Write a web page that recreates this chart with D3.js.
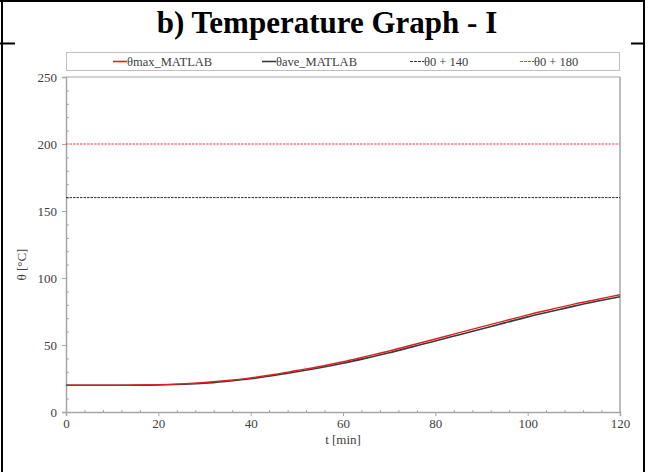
<!DOCTYPE html>
<html><head><meta charset="utf-8">
<script src="https://cdnjs.cloudflare.com/ajax/libs/d3/7.8.5/d3.min.js"></script>
<style>body{margin:0;background:#fff}svg{display:block}</style>
</head><body>
<script>
const title = "b) Temperature Graph - I";
const timeMin = [0,5,10,15,20,25,30,35,40,45,50,55,60,65,70,75,80,85,90,95,100,105,110,115,120];
const thetaMax = [20,20,20,20.1,20.4,21,22,23.5,25.5,28,31,34,37.5,41.5,45.5,50,54.5,59,63.5,68,72.5,76.5,80.5,84,87.5];
const thetaAve = [20,20,20,20,20.2,20.7,21.5,23,24.8,27.2,30,33,36.4,40.2,44.2,48.6,53,57.5,62,66.5,71,75,79,82.6,86];
const limit140 = 160;
const limit180 = 200;
const legendLabels = ["θmax_MATLAB","θave_MATLAB","θ0 + 140","θ0 + 180"];
const xTicks = [0,20,40,60,80,100,120];
const yTicks = [0,50,100,150,200,250];
const xLabel = "t [min]";
const yLabel = "θ [°C]";

const W = 653, H = 472;
const svg = d3.select("body").append("svg").attr("width", W).attr("height", H);
const font = "'Liberation Serif', 'Times New Roman', serif";

// outer table frame
const frame = svg.append("g").attr("stroke", "#000").attr("stroke-width", 2);
frame.append("line").attr("x1", 0).attr("x2", 645).attr("y1", 1).attr("y2", 1);
frame.append("line").attr("x1", 2).attr("x2", 2).attr("y1", 0).attr("y2", H);
frame.append("line").attr("x1", 644).attr("x2", 644).attr("y1", 0).attr("y2", H);
frame.append("line").attr("x1", 0).attr("x2", 15).attr("y1", 43.5).attr("y2", 43.5);
frame.append("line").attr("x1", 631).attr("x2", 645).attr("y1", 43.5).attr("y2", 43.5);

svg.append("text").attr("x", 327).attr("y", 33).attr("text-anchor", "middle")
  .style("font-family", font).attr("font-weight", "bold").attr("font-size", 31)
  .attr("fill", "#000").text(title);

const x = d3.scaleLinear().domain([0, 120]).range([66, 620]);
const y = d3.scaleLinear().domain([0, 250]).range([412, 77]);
const axisColor = "#a6a6a6";

// plot frame (top & right)
svg.append("line").attr("x1", x(0)).attr("x2", x(120)).attr("y1", y(250)).attr("y2", y(250)).attr("stroke", axisColor);
svg.append("line").attr("x1", x(120)).attr("x2", x(120)).attr("y1", y(250)).attr("y2", y(0)).attr("stroke", axisColor).attr("stroke-width", 1.5);

// x axis
const xa = svg.append("g").attr("transform", `translate(0,${y(0)})`)
  .call(d3.axisBottom(x).tickValues(xTicks).tickSize(4).tickPadding(3).tickFormat(d3.format("d")));
const xm = svg.append("g").attr("transform", `translate(0,${y(0)})`)
  .call(d3.axisTop(x).tickValues(d3.range(0, 121, 4).filter(v => v % 20 !== 0)).tickSize(2).tickFormat(""));
// y axis
const ya = svg.append("g").attr("transform", `translate(${x(0)},0)`)
  .call(d3.axisLeft(y).tickValues(yTicks).tickSize(4).tickPadding(5).tickFormat(d3.format("d")));
const ym = svg.append("g").attr("transform", `translate(${x(0)},0)`)
  .call(d3.axisRight(y).tickValues(d3.range(0, 251, 10).filter(v => v % 50 !== 0)).tickSize(3).tickFormat(""));
[xa, xm, ya, ym].forEach(g => {
  g.attr("font-family", null);
  g.select(".domain").attr("stroke", axisColor).attr("stroke-width", 1.5);
  g.selectAll(".tick line").attr("stroke", axisColor);
  g.selectAll(".tick text").style("font-family", font).attr("font-size", 13).attr("fill", "#404040");
});
xm.select(".domain").remove(); ym.select(".domain").remove();

// axis titles
svg.append("text").attr("x", x(60)).attr("y", 444).attr("text-anchor", "middle")
  .style("font-family", font).attr("font-size", 13).attr("fill", "#404040").text(xLabel);
svg.append("text").attr("transform", `translate(26,${y(110)}) rotate(-90)`).attr("text-anchor", "middle")
  .style("font-family", font).attr("font-size", 13).attr("fill", "#404040").text(yLabel);

// limit lines
svg.append("line").attr("x1", x(0)).attr("x2", x(120)).attr("y1", y(limit180)).attr("y2", y(limit180))
  .attr("stroke", "#ff3b3b").attr("stroke-width", 1).attr("stroke-dasharray", "2.5,1");
svg.append("line").attr("x1", x(0)).attr("x2", x(120)).attr("y1", y(limit140)).attr("y2", y(limit140))
  .attr("stroke", "#303030").attr("stroke-width", 1).attr("stroke-dasharray", "2.5,1");

// curves
const line = d3.line().x((d, i) => x(timeMin[i])).y(d => y(d)).curve(d3.curveMonotoneX);
svg.append("path").datum(thetaAve).attr("d", line).attr("fill", "none").attr("stroke", "#3a3a3a").attr("stroke-width", 1.6);
svg.append("path").datum(thetaMax).attr("d", line).attr("fill", "none").attr("stroke", "#e02020").attr("stroke-width", 1.4);

// legend
svg.append("rect").attr("x", 66.5).attr("y", 52.5).attr("width", 553).attr("height", 18)
  .attr("fill", "#fff").attr("stroke", "#bfbfbf");
const legend = [
  {x: 113, color: "#e02020", dash: null, w: 1.6},
  {x: 262, color: "#3a3a3a", dash: null, w: 1.6},
  {x: 410, color: "#303030", dash: "3,1", w: 1},
  {x: 520, color: "#ff3b3b", dash: "3,1", w: 1}
];
legend.forEach((l, i) => {
  svg.append("line").attr("x1", l.x).attr("x2", l.x + 14).attr("y1", 61.5).attr("y2", 61.5)
    .attr("stroke", l.color).attr("stroke-width", l.w).attr("stroke-dasharray", l.dash);
  svg.append("text").attr("x", l.x + 14).attr("y", 65.5).style("font-family", font).attr("font-size", 12.5)
    .attr("fill", "#404040").text(legendLabels[i]);
});
</script>
</body></html>
